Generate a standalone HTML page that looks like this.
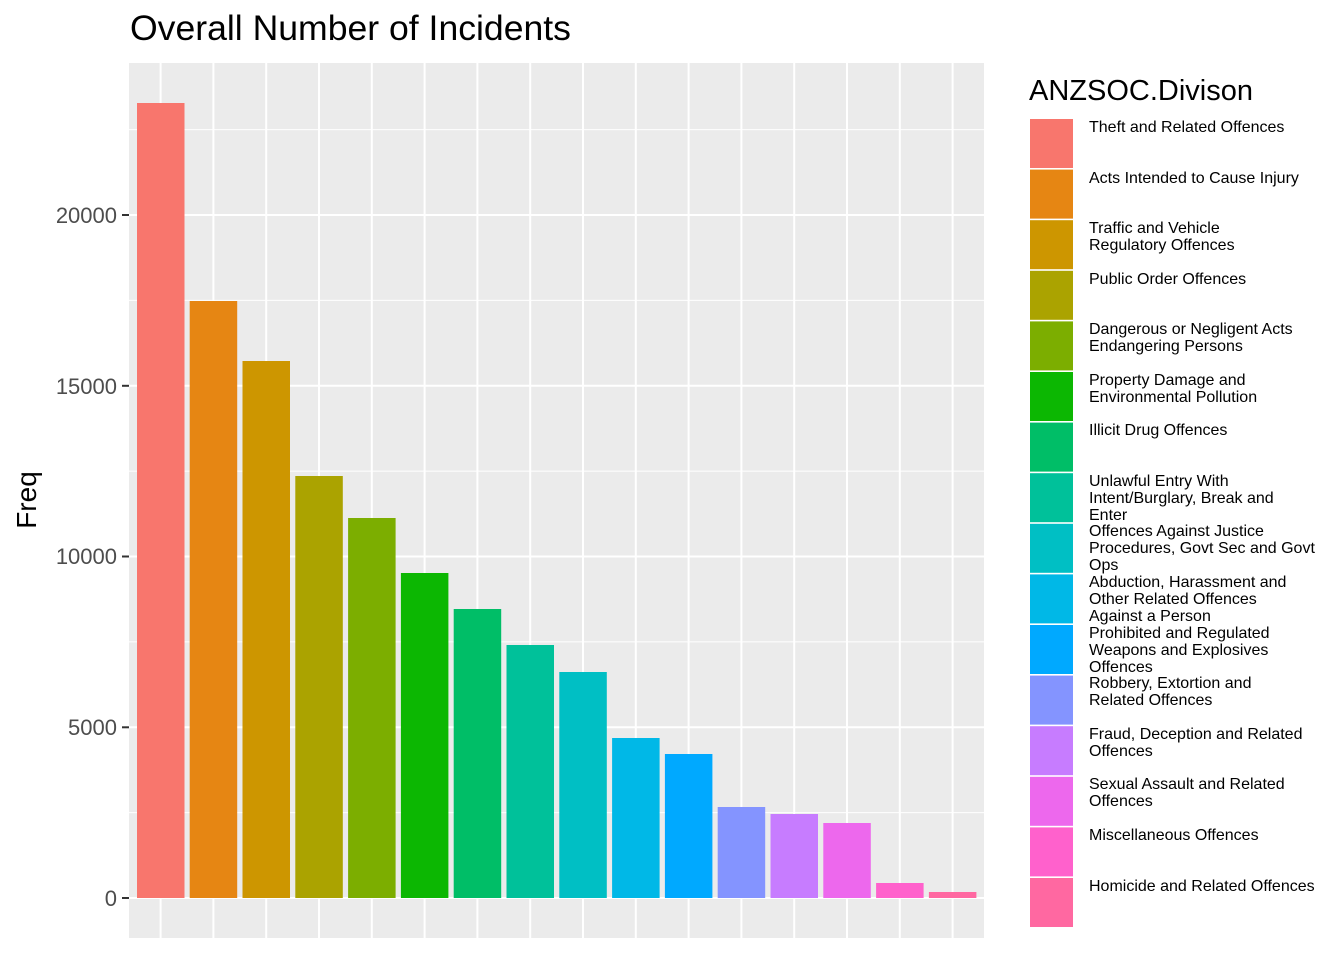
<!DOCTYPE html>
<html><head><meta charset="utf-8"><style>body{margin:0;background:#fff}svg{display:block;font-family:"Liberation Sans",sans-serif}</style></head><body>
<svg width="1344" height="960" xmlns="http://www.w3.org/2000/svg">
<rect x="129" y="63" width="855" height="875" fill="#EBEBEB"/>
<g stroke="#fff" stroke-width="1">
<line x1="129" x2="984" y1="812.6" y2="812.6"/><line x1="129" x2="984" y1="641.9" y2="641.9"/><line x1="129" x2="984" y1="471.1" y2="471.1"/><line x1="129" x2="984" y1="300.4" y2="300.4"/><line x1="129" x2="984" y1="129.6" y2="129.6"/>
</g>
<g stroke="#fff" stroke-width="2">
<line x1="129" x2="984" y1="898" y2="898"/><line x1="129" x2="984" y1="727.3" y2="727.3"/><line x1="129" x2="984" y1="556.5" y2="556.5"/><line x1="129" x2="984" y1="385.8" y2="385.8"/><line x1="129" x2="984" y1="215" y2="215"/>
<line x1="160.6" x2="160.6" y1="63" y2="938"/><line x1="213.4" x2="213.4" y1="63" y2="938"/><line x1="266.2" x2="266.2" y1="63" y2="938"/><line x1="319" x2="319" y1="63" y2="938"/><line x1="371.8" x2="371.8" y1="63" y2="938"/><line x1="424.6" x2="424.6" y1="63" y2="938"/><line x1="477.4" x2="477.4" y1="63" y2="938"/><line x1="530.2" x2="530.2" y1="63" y2="938"/><line x1="583" x2="583" y1="63" y2="938"/><line x1="635.8" x2="635.8" y1="63" y2="938"/><line x1="688.6" x2="688.6" y1="63" y2="938"/><line x1="741.4" x2="741.4" y1="63" y2="938"/><line x1="794.2" x2="794.2" y1="63" y2="938"/><line x1="847" x2="847" y1="63" y2="938"/><line x1="899.8" x2="899.8" y1="63" y2="938"/><line x1="952.6" x2="952.6" y1="63" y2="938"/>
</g>
<g>
<rect x="137" y="103" width="47.5" height="795" fill="#F8766D"/>
<rect x="189.7" y="301" width="47.5" height="597" fill="#E68613"/>
<rect x="242.5" y="361" width="47.5" height="537" fill="#CD9600"/>
<rect x="295.3" y="476" width="47.5" height="422" fill="#ABA300"/>
<rect x="348.1" y="518" width="47.5" height="380" fill="#7CAE00"/>
<rect x="400.9" y="573" width="47.5" height="325" fill="#0CB702"/>
<rect x="453.7" y="609" width="47.5" height="289" fill="#00BE67"/>
<rect x="506.5" y="645" width="47.5" height="253" fill="#00C19A"/>
<rect x="559.3" y="672" width="47.5" height="226" fill="#00BFC4"/>
<rect x="612.1" y="738" width="47.5" height="160" fill="#00B8E7"/>
<rect x="664.9" y="754" width="47.5" height="144" fill="#00A9FF"/>
<rect x="717.7" y="807" width="47.5" height="91" fill="#8494FF"/>
<rect x="770.5" y="814" width="47.5" height="84" fill="#C77CFF"/>
<rect x="823.3" y="823" width="47.5" height="75" fill="#ED68ED"/>
<rect x="876.1" y="883" width="47.5" height="15" fill="#FF61CC"/>
<rect x="928.9" y="892" width="47.5" height="6" fill="#FF68A1"/>
</g>
<g stroke="#333" stroke-width="2">
<line x1="122" x2="129" y1="898" y2="898"/><line x1="122" x2="129" y1="727.3" y2="727.3"/><line x1="122" x2="129" y1="556.5" y2="556.5"/><line x1="122" x2="129" y1="385.8" y2="385.8"/><line x1="122" x2="129" y1="215" y2="215"/>
</g>
<g font-size="22" fill="#4D4D4D" text-anchor="end">
<text x="117" y="906">0</text><text x="117" y="735">5000</text><text x="117" y="564">10000</text><text x="117" y="394">15000</text><text x="117" y="223">20000</text>
</g>
<text x="36" y="500" font-size="28" text-anchor="middle" transform="rotate(-90 36 500)">Freq</text>
<text x="130" y="40" font-size="35.6">Overall Number of Incidents</text>
<text x="1029" y="100" font-size="29">ANZSOC.Divison</text>
<g stroke="#fff" stroke-width="1">
<rect x="1029.5" y="118.5" width="44" height="50" fill="#F8766D"/>
<rect x="1029.5" y="169.1" width="44" height="50" fill="#E68613"/>
<rect x="1029.5" y="219.7" width="44" height="50" fill="#CD9600"/>
<rect x="1029.5" y="270.3" width="44" height="50" fill="#ABA300"/>
<rect x="1029.5" y="320.9" width="44" height="50" fill="#7CAE00"/>
<rect x="1029.5" y="371.5" width="44" height="50" fill="#0CB702"/>
<rect x="1029.5" y="422.1" width="44" height="50" fill="#00BE67"/>
<rect x="1029.5" y="472.7" width="44" height="50" fill="#00C19A"/>
<rect x="1029.5" y="523.3" width="44" height="50" fill="#00BFC4"/>
<rect x="1029.5" y="573.9" width="44" height="50" fill="#00B8E7"/>
<rect x="1029.5" y="624.5" width="44" height="50" fill="#00A9FF"/>
<rect x="1029.5" y="675.1" width="44" height="50" fill="#8494FF"/>
<rect x="1029.5" y="725.7" width="44" height="50" fill="#C77CFF"/>
<rect x="1029.5" y="776.3" width="44" height="50" fill="#ED68ED"/>
<rect x="1029.5" y="826.9" width="44" height="50" fill="#FF61CC"/>
<rect x="1029.5" y="877.5" width="44" height="50" fill="#FF68A1"/>
</g>
<g font-size="16" fill="#000">
<text x="1089" y="132">Theft and Related Offences</text>
<text x="1089" y="183">Acts Intended to Cause Injury</text>
<text x="1089" y="233">Traffic and Vehicle</text><text x="1089" y="250">Regulatory Offences</text>
<text x="1089" y="284">Public Order Offences</text>
<text x="1089" y="334">Dangerous or Negligent Acts</text><text x="1089" y="351">Endangering Persons</text>
<text x="1089" y="385">Property Damage and</text><text x="1089" y="402">Environmental Pollution</text>
<text x="1089" y="435">Illicit Drug Offences</text>
<text x="1089" y="486">Unlawful Entry With</text><text x="1089" y="503">Intent/Burglary, Break and</text><text x="1089" y="520">Enter</text>
<text x="1089" y="536">Offences Against Justice</text><text x="1089" y="553">Procedures, Govt Sec and Govt</text><text x="1089" y="570">Ops</text>
<text x="1089" y="587">Abduction, Harassment and</text><text x="1089" y="604">Other Related Offences</text><text x="1089" y="621">Against a Person</text>
<text x="1089" y="638">Prohibited and Regulated</text><text x="1089" y="655">Weapons and Explosives</text><text x="1089" y="672">Offences</text>
<text x="1089" y="688">Robbery, Extortion and</text><text x="1089" y="705">Related Offences</text>
<text x="1089" y="739">Fraud, Deception and Related</text><text x="1089" y="756">Offences</text>
<text x="1089" y="789">Sexual Assault and Related</text><text x="1089" y="806">Offences</text>
<text x="1089" y="840">Miscellaneous Offences</text>
<text x="1089" y="891">Homicide and Related Offences</text>
</g>
</svg>
</body></html>
